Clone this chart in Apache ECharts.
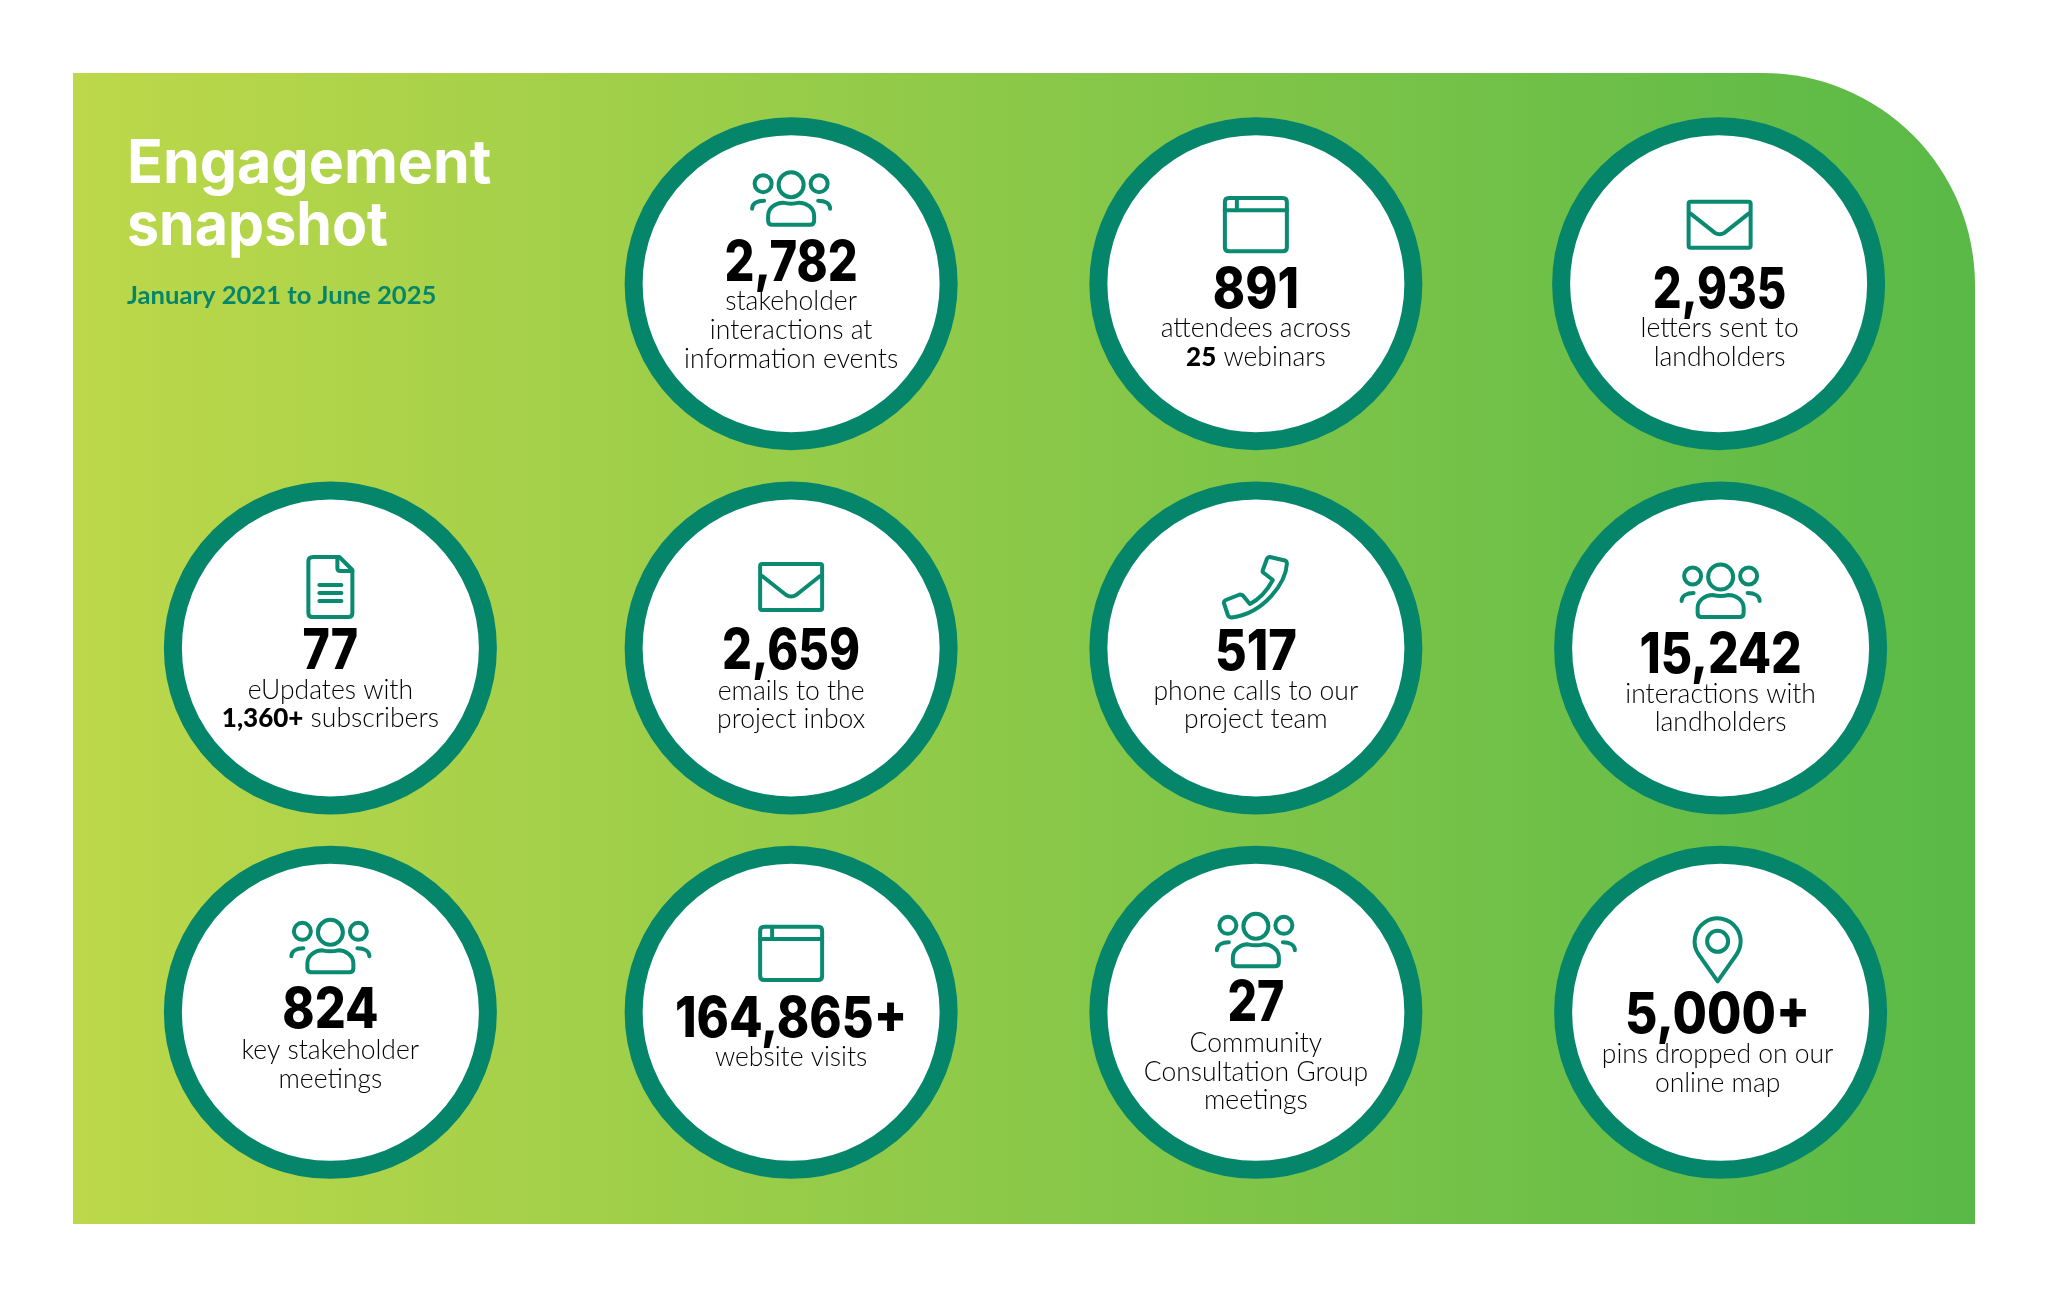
<!DOCTYPE html>
<html><head><meta charset="utf-8">
<style>html,body{margin:0;padding:0;background:#fff}#c{width:2048px;height:1297px}</style>
<script src="https://cdn.jsdelivr.net/npm/echarts@6/dist/echarts.min.js"></script></head>
<body><div id="c"></div>
<script>
const columns = ['c1','c2','c3','c4'];
const rows = ['r1','r2','r3'];
const titleLines = ['Engagement','snapshot'];
const subtitle = 'January 2021 to June 2025';
const stats = ['2,782','891','2,935','77','2,659','517','15,242','824','164,865+','27','5,000+'];
const captions = [
  ['stakeholder','interactions at','information events'],
  ['attendees across','{b|25} webinars'],
  ['letters sent to','landholders'],
  ['eUpdates with','{b|1,360+} subscribers'],
  ['emails to the','project inbox'],
  ['phone calls to our','project team'],
  ['interactions with','landholders'],
  ['key stakeholder','meetings'],
  ['website visits'],
  ['Community','Consultation Group','meetings'],
  ['pins dropped on our','online map']
];
const icons = ['people','window','mail','doc','mail','phone','people','people','window','people','pin'];
const cellCol = [1,2,3,0,1,2,3,0,1,2,3];
const cellRow = [0,0,0,1,1,1,1,2,2,2,2];
// layout offsets [ringDx, iconDy, numberDy, firstCaptionDy, textDx]
const cellOffsets = [
  [-2,-86,-20,18,0],[0,-59,7,45,0],[0,-59,7,45,1],
  [0,-61,4,42,0],[-2,-61,4,43,0],[0,-61,5,43,0],[2,-58,8,46,0],
  [0,-67,-1,38,0],[-2,-59,8,45,0],[0,-73,-8,31,0],[2,-63,4,42,-3]
];
// horizontal squeeze of each big number, to follow the narrow digits of the original face
const numberSqueeze = [.84,.87,.81,.83,.84,.87,.86,.87,.875,.83,.89];
const TEAL='#05866b', ICON='#0a8a71';
const FONT='Lato', NUMFONT='Inter';
const ICONS={
  people:[
    'M-12.5,-13a12.5,12.5 0 1,0 25,0a12.5,12.5 0 1,0 -25,0Z',
    'M-36.5,-14a8.5,8.5 0 1,0 17,0a8.5,8.5 0 1,0 -17,0Z',
    'M19.5,-14a8.5,8.5 0 1,0 17,0a8.5,8.5 0 1,0 -17,0Z',
    'M-19,27H19Q23,27 23,23V18C23,10 15,5 8,5Q0,7 -8,5C-15,5 -23,10 -23,18V23Q-23,27 -19,27Z',
    'M-39,11C-39,6 -34,3 -27,3','M39,11C39,6 34,3 27,3'
  ],
  window:[
    'M-27,-26.6H27Q31,-26.6 31,-22.6V22.6Q31,26.6 27,26.6H-27Q-31,26.6 -31,22.6V-22.6Q-31,-26.6 -27,-26.6Z',
    'M-31,-14.3H31','M-19,-26.6V-14.3'
  ],
  mail:[
    'M-29,-23H29Q31,-23 31,-21V21Q31,23 29,23H-29Q-31,23 -31,21V-21Q-31,-23 -29,-23Z',
    'M-29,-11L-5,8Q0,11 5,8L29,-11'
  ],
  doc:[
    'M-17,-30H9L22,-17V26Q22,30 18,30H-18Q-22,30 -22,26V-26Q-22,-30 -17,-30Z',
    'M7,-30V-19Q7,-16 10,-16H22','M-11,-2H11','M-11,6H11','M-11,14H11'
  ],
  phone:[
    'M14,-30L29,-26.5Q31,-26 31,-23C30,-5 9,26 -24,30.5Q-27,30.5 -28,28L-32,16Q-32,14 -30,13L-16,7.5Q-14,7.5 -13,8.5L-6,17C4,12 11,4 17,-7L8,-14Q6,-15 7,-17L11,-28Q12,-30 14,-30Z'
  ],
  pin:[
    'M0,32L-19,5A23,23 0 1,1 19,5Z',
    'M-10.5,-8a10.5,10.5 0 1,0 21,0a10.5,10.5 0 1,0 -21,0Z'
  ]
};
function iconChildren(name,x,y){
  return ICONS[name].map(d=>({type:'path',x:x,y:y,shape:{pathData:d},
    style:{fill:null,stroke:ICON,lineWidth:4,lineCap:'round',lineJoin:'round'}}));
}
const boldRich={b:{font:'900 26px '+FONT,fill:'#000'}};
function renderCell(params,api){
  const i=params.dataIndex, p=api.coord([api.value(0),api.value(1)]);
  const o=cellOffsets[i], cx=p[0]+o[0], cy=p[1];
  const children=[
    {type:'circle',shape:{cx:0,cy:0,r:157.5},style:{fill:'#fff',stroke:TEAL,lineWidth:18}},
    ...iconChildren(icons[i],o[4],o[1]),
    {type:'text',x:o[4],y:o[2],scaleX:numberSqueeze[i],
      style:{text:stats[i],font:'800 56px '+NUMFONT,fill:'#000',align:'center',verticalAlign:'middle'}}
  ];
  captions[i].forEach((t,k)=>children.push({type:'text',x:o[4],y:o[3]+k*28.7,
    style:{text:t,font:'300 26.5px '+FONT,fill:'#000',align:'center',verticalAlign:'middle',rich:boldRich}}));
  return {type:'group',x:cx,y:cy,children};
}
const chart=echarts.init(document.getElementById('c'),null,{renderer:'canvas'});
chart.setOption({
  animation:false,
  backgroundColor:'#fff',
  grid:{left:99,top:101.5,width:1851,height:1093},
  xAxis:{type:'category',data:columns,show:false},
  yAxis:{type:'category',data:rows,inverse:true,show:false},
  graphic:[
    {type:'rect',z:0,shape:{x:73,y:73,width:1902,height:1151,r:[0,212,0,0]},
     style:{fill:new echarts.graphic.LinearGradient(0,0,1,0,[{offset:0,color:'#bdd84a'},{offset:1,color:'#59b947'}])}},
    {type:'text',z:1,x:127,y:165,scaleX:.985,style:{text:titleLines[0],font:'700 60px Inter',fill:'#fff',verticalAlign:'middle'}},
    {type:'text',z:1,x:127,y:227,scaleX:.955,style:{text:titleLines[1],font:'700 60px Inter',fill:'#fff',verticalAlign:'middle'}},
    {type:'text',z:1,x:127,y:296,style:{text:subtitle,font:'700 25.6px Lato',fill:TEAL,verticalAlign:'middle'}}
  ],
  series:[{type:'custom',z:5,coordinateSystem:'cartesian2d',clip:false,silent:true,
    renderItem:renderCell,
    data:cellCol.map((c,i)=>[c,cellRow[i]])}]
});
</script></body></html>
